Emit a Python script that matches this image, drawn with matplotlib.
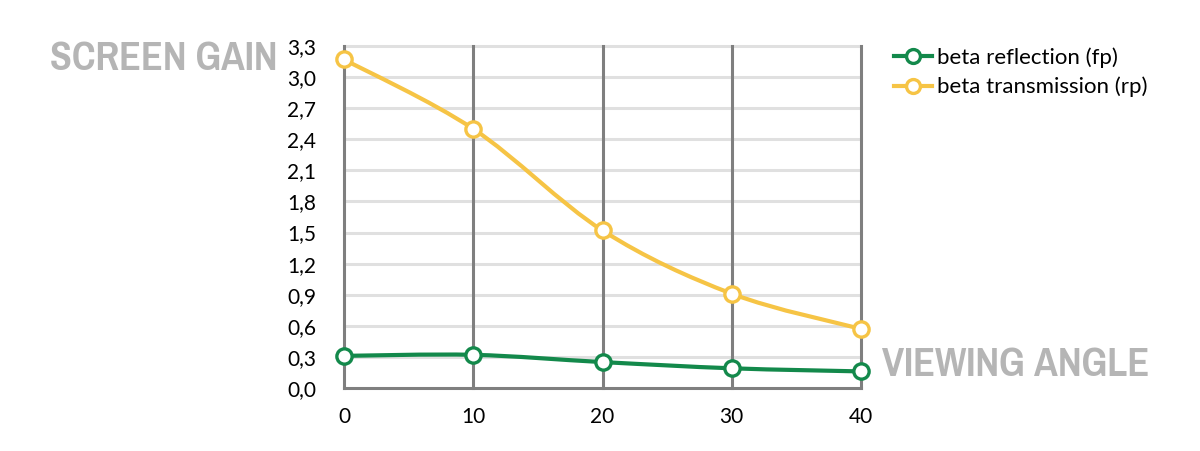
import matplotlib
matplotlib.use('Agg')
import matplotlib.pyplot as plt
from matplotlib import ticker
from matplotlib import font_manager
from matplotlib.path import Path
from matplotlib.patches import PathPatch
from matplotlib.lines import Line2D

# data
angles = [0, 10, 20, 30, 40]
reflection = [0.31, 0.32, 0.25, 0.19, 0.16]
transmission = [3.17, 2.50, 1.52, 0.91, 0.57]
labels = ['beta reflection (fp)', 'beta transmission (rp)']
y_ticks = [0.0, 0.3, 0.6, 0.9, 1.2, 1.5, 1.8, 2.1, 2.4, 2.7, 3.0, 3.3]

GREEN = '#13894b'
YELLOW = '#f6c445'
GRID_LIGHT = '#e0e0e0'
GRID_DARK = '#7f7f7f'
TITLE_GREY = '#b5b5b5'

plt.rcParams['font.family'] = ['Lato', 'DejaVu Sans']


def smooth_path(xs, ys, tension=1 / 6):
    """Catmull-Rom style bezier path through the points (like spreadsheet 'smoothed line')"""
    pts = list(zip(xs, ys))
    verts = [pts[0]]
    codes = [Path.MOVETO]
    for i in range(len(pts) - 1):
        p0 = pts[i - 1] if i > 0 else pts[i]
        p1 = pts[i]
        p2 = pts[i + 1]
        p3 = pts[i + 2] if i + 2 < len(pts) else pts[i + 1]
        c1 = (p1[0] + (p2[0] - p0[0]) * tension, p1[1] + (p2[1] - p0[1]) * tension)
        c2 = (p2[0] - (p3[0] - p1[0]) * tension, p2[1] - (p3[1] - p1[1]) * tension)
        verts += [c1, c2, p2]
        codes += [Path.CURVE4] * 3
    return Path(verts, codes)


def condensed_bold():
    """Find the narrowest bold face installed, for the big grey titles"""
    best = None
    for f in font_manager.fontManager.ttflist:
        name = (f.name + ' ' + f.fname).lower()
        narrow = f.stretch in ('condensed', 'semi-condensed', 'extra-condensed') or \
            'condensed' in name or 'narrow' in name
        bold = f.weight in ('bold', 700, 'heavy', 800, 'semibold', 600) or 'bold' in name
        if narrow and bold and 'oblique' not in name and 'italic' not in name:
            if best is None or 'narrow' in name:
                best = f.fname
    if best:
        return font_manager.FontProperties(fname=best)
    return font_manager.FontProperties(family='DejaVu Sans', weight='bold')


fig = plt.figure(figsize=(12, 4.51), dpi=100)
ax = fig.add_axes([0.2867, 0.1397, 0.4308, 0.7583])

ax.set_xlim(angles[0], angles[-1])
ax.set_ylim(y_ticks[0], y_ticks[-1])
ax.set_xticks(angles)
ax.set_yticks(y_ticks)
ax.yaxis.set_major_formatter(ticker.FuncFormatter(lambda v, p: f'{v:.1f}'.replace('.', ',')))

for s in ax.spines.values():
    s.set_visible(False)

# grid: light horizontals, dark verticals
for yv in y_ticks[1:]:
    ax.axhline(yv, color=GRID_LIGHT, linewidth=2.2, zorder=1, clip_on=False)
for xv in angles:
    ax.axvline(xv, color=GRID_DARK, linewidth=2.2, zorder=2, clip_on=False)
ax.axhline(0, color=GRID_DARK, linewidth=2.2, zorder=2, clip_on=False)

ax.tick_params(length=0, labelsize=15)
ax.tick_params(axis='y', pad=20)
ax.tick_params(axis='x', pad=14)

for ys, col in [(reflection, GREEN), (transmission, YELLOW)]:
    ax.add_patch(PathPatch(smooth_path(angles, ys), facecolor='none', edgecolor=col,
                           linewidth=3, zorder=3, clip_on=False, capstyle='round'))
    ax.plot(angles, ys, linestyle='none', marker='o', markersize=11, markerfacecolor='white',
            markeredgecolor=col, markeredgewidth=2.4, zorder=4, clip_on=False)

handles = [Line2D([], [], color=c, linewidth=3, marker='o', markersize=10,
                  markerfacecolor='white', markeredgecolor=c, markeredgewidth=2.4)
           for c in (GREEN, YELLOW)]
fig.legend(handles, labels, loc='upper left', bbox_to_anchor=(0.738, 0.915), frameon=False,
           fontsize=16, handlelength=1.7, handletextpad=0.2, labelspacing=0.4, borderaxespad=0)

# big grey titles, size fitted to the width they take in the reference
title_font = condensed_bold()
renderer = fig.canvas.get_renderer()
for txt, x0, yc, width_px in [('SCREEN GAIN', 50, 59, 228), ('VIEWING ANGLE', 882, 364, 268)]:
    t = fig.text(x0 / 1200, 1 - yc / 451, txt, ha='left', va='center', color=TITLE_GREY,
                 fontproperties=title_font, fontsize=36)
    w = t.get_window_extent(renderer).width
    t.set_fontsize(min(48, 36 * width_px / w))

fig.savefig('out.png', dpi=100)
